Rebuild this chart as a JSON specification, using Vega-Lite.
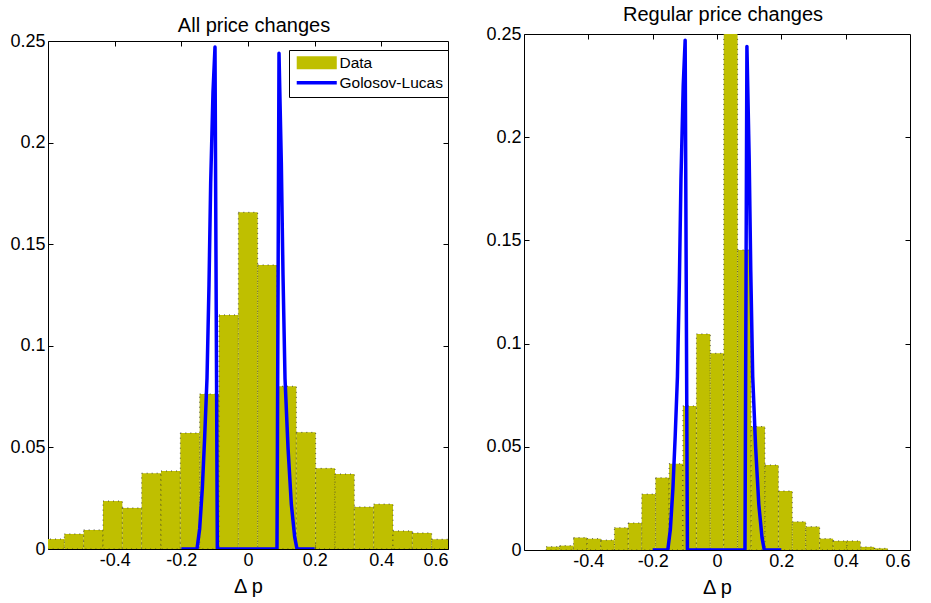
{
  "$schema": "https://vega.github.io/schema/vega-lite/v6.json",
  "background": "white",
  "padding": {"left": 9, "top": 4, "right": 5, "bottom": 3},
  "datasets": {
    "allBars": [
      {"x0": -0.609, "x1": -0.551, "density": 0.0049},
      {"x0": -0.551, "x1": -0.493, "density": 0.0074},
      {"x0": -0.493, "x1": -0.435, "density": 0.0094},
      {"x0": -0.435, "x1": -0.377, "density": 0.0236},
      {"x0": -0.377, "x1": -0.319, "density": 0.0202},
      {"x0": -0.319, "x1": -0.261, "density": 0.0373},
      {"x0": -0.261, "x1": -0.203, "density": 0.0384},
      {"x0": -0.203, "x1": -0.145, "density": 0.0571},
      {"x0": -0.145, "x1": -0.087, "density": 0.0763},
      {"x0": -0.087, "x1": -0.029, "density": 0.1152},
      {"x0": -0.029, "x1": 0.029, "density": 0.1657},
      {"x0": 0.029, "x1": 0.087, "density": 0.1398},
      {"x0": 0.087, "x1": 0.145, "density": 0.0801},
      {"x0": 0.145, "x1": 0.203, "density": 0.0574},
      {"x0": 0.203, "x1": 0.261, "density": 0.0397},
      {"x0": 0.261, "x1": 0.319, "density": 0.0369},
      {"x0": 0.319, "x1": 0.377, "density": 0.0207},
      {"x0": 0.377, "x1": 0.435, "density": 0.0221},
      {"x0": 0.435, "x1": 0.493, "density": 0.0089},
      {"x0": 0.493, "x1": 0.551, "density": 0.0079},
      {"x0": 0.551, "x1": 0.609, "density": 0.0048}
    ],
    "regBars": [
      {"x0": -0.531, "x1": -0.489, "density": 0.0016},
      {"x0": -0.489, "x1": -0.446, "density": 0.0021},
      {"x0": -0.446, "x1": -0.404, "density": 0.006},
      {"x0": -0.404, "x1": -0.361, "density": 0.0055},
      {"x0": -0.361, "x1": -0.319, "density": 0.0048},
      {"x0": -0.319, "x1": -0.276, "density": 0.0108},
      {"x0": -0.276, "x1": -0.234, "density": 0.0131},
      {"x0": -0.234, "x1": -0.191, "density": 0.0271},
      {"x0": -0.191, "x1": -0.149, "density": 0.035},
      {"x0": -0.149, "x1": -0.106, "density": 0.0418},
      {"x0": -0.106, "x1": -0.064, "density": 0.0698},
      {"x0": -0.064, "x1": -0.021, "density": 0.1047},
      {"x0": -0.021, "x1": 0.021, "density": 0.0953},
      {"x0": 0.021, "x1": 0.064, "density": 0.27},
      {"x0": 0.064, "x1": 0.106, "density": 0.1454},
      {"x0": 0.106, "x1": 0.149, "density": 0.0598},
      {"x0": 0.149, "x1": 0.191, "density": 0.0412},
      {"x0": 0.191, "x1": 0.234, "density": 0.0286},
      {"x0": 0.234, "x1": 0.276, "density": 0.0137},
      {"x0": 0.276, "x1": 0.319, "density": 0.0113},
      {"x0": 0.319, "x1": 0.361, "density": 0.0055},
      {"x0": 0.361, "x1": 0.404, "density": 0.0044},
      {"x0": 0.404, "x1": 0.446, "density": 0.0044},
      {"x0": 0.446, "x1": 0.489, "density": 0.0015},
      {"x0": 0.489, "x1": 0.531, "density": 0.0008}
    ],
    "curve": [
      {"dp": -0.2, "density": 0},
      {"dp": -0.153, "density": 0},
      {"dp": -0.145, "density": 0.01},
      {"dp": -0.137, "density": 0.03},
      {"dp": -0.13, "density": 0.055},
      {"dp": -0.123, "density": 0.084},
      {"dp": -0.117, "density": 0.13},
      {"dp": -0.112, "density": 0.18},
      {"dp": -0.105, "density": 0.225},
      {"dp": -0.099, "density": 0.247},
      {"dp": -0.092, "density": 0},
      {"dp": 0.087, "density": 0},
      {"dp": 0.093, "density": 0.244},
      {"dp": 0.1, "density": 0.19},
      {"dp": 0.105, "density": 0.135},
      {"dp": 0.111, "density": 0.084},
      {"dp": 0.12, "density": 0.05},
      {"dp": 0.13, "density": 0.022},
      {"dp": 0.14, "density": 0.006},
      {"dp": 0.147, "density": 0},
      {"dp": 0.2, "density": 0}
    ],
    "empty": []
  },
  "config": {
    "font": "Liberation Sans",
    "view": {"stroke": "black", "strokeWidth": 1},
    "axis": {
      "domain": false,
      "grid": false,
      "tickColor": "black",
      "tickSize": -5,
      "tickWidth": 1,
      "labelColor": "black",
      "labelFontSize": 18,
      "labelFont": "Liberation Sans",
      "labelPadding": 8,
      "titleColor": "black",
      "titleFontSize": 20,
      "titleFontWeight": "normal",
      "titleFont": "Liberation Sans",
      "titlePadding": 7
    },
    "axisX": {"labelPadding": 7},
    "title": {
      "fontSize": 20,
      "fontWeight": "normal",
      "color": "black",
      "font": "Liberation Sans",
      "offset": 0.1,
      "frame": "group",
      "anchor": "middle",
      "dx": 6
    },
    "locale": {
      "number": {"decimal": ".", "thousands": ",", "grouping": [3], "currency": ["$", ""], "minus": "-"}
    }
  },
  "spacing": 36,
  "resolve": {"scale": {"color": "independent", "shape": "independent"}, "legend": {"color": "independent", "shape": "independent"}},
  "hconcat": [
    {
      "spacing": -5,
      "resolve": {"scale": {"color": "independent", "shape": "independent"}, "legend": {"color": "independent", "shape": "independent"}},
      "vconcat": [
        {
          "width": 400,
          "height": 1,
          "view": {"stroke": null},
          "title": {"text": "All price changes", "offset": -2},
          "data": {"name": "empty"},
          "mark": "point"
        },
        {
          "width": 400,
          "height": 508,
          "resolve": {"axis": {"x": "independent", "y": "independent"}},
          "layer": [
            {
              "data": {"name": "allBars"},
              "mark": {"type": "bar", "clip": true, "color": "#BFBF00", "stroke": "#333333", "strokeWidth": 0.8, "strokeDash": [1, 4]},
              "encoding": {
                "x": {"field": "x0", "type": "quantitative",
                      "scale": {"domain": [-0.6, 0.6], "nice": false, "zero": false},
                      "axis": {"orient": "top", "labels": false, "title": null, "values": [-0.4, -0.2, 0, 0.2, 0.4]}},
                "x2": {"field": "x1"},
                "y": {"field": "density", "type": "quantitative",
                      "scale": {"domain": [0, 0.25], "nice": false},
                      "axis": {"orient": "left", "title": null, "values": [0, 0.05, 0.1, 0.15, 0.2, 0.25], "format": "~g"}},
                "y2": {"datum": 0}
              }
            },
            {
              "data": {"name": "curve"},
              "mark": {"type": "line", "clip": true, "color": "#0000FF", "strokeWidth": 3.5, "strokeJoin": "round"},
              "encoding": {
                "x": {"field": "dp", "type": "quantitative",
                      "scale": {"domain": [-0.6, 0.6], "nice": false, "zero": false},
                      "axis": {"orient": "bottom", "title": "Δ p", "values": [-0.4, -0.2, 0, 0.2, 0.4, 0.6], "format": "~g"}},
                "y": {"field": "density", "type": "quantitative",
                      "scale": {"domain": [0, 0.25], "nice": false},
                      "axis": {"orient": "right", "labels": false, "title": null, "values": [0.05, 0.1, 0.15, 0.2]}}
              }
            },
            {
              "data": {"name": "empty"},
              "mark": {"type": "point", "filled": true, "opacity": 1},
              "encoding": {
                "color": {"datum": "Data", "type": "nominal",
                          "scale": {"domain": ["Data", "Golosov-Lucas"], "range": ["#BFBF00", "#0000FF"]},
                          "legend": {
                            "orient": "none", "legendX": 241, "legendY": 9, "title": null,
                            "strokeColor": "black", "fillColor": "white", "padding": 5,
                            "labelFontSize": 15.5, "labelFont": "Liberation Sans", "labelColor": "black",
                            "symbolSize": 196, "symbolOffset": 15, "labelOffset": 15, "rowPadding": 3,
                            "symbolOpacity": 1, "symbolStrokeWidth": 0
                          }},
                "shape": {"datum": "Data", "type": "nominal",
                          "scale": {"domain": ["Data", "Golosov-Lucas"], "range": ["M-2.86,-0.93H2.86V0.93H-2.86Z", "M-2.86,-0.25H2.86V0.25H-2.86Z"]},
                          "legend": {
                            "orient": "none", "legendX": 241, "legendY": 9, "title": null,
                            "strokeColor": "black", "fillColor": "white", "padding": 5,
                            "labelFontSize": 15.5, "labelFont": "Liberation Sans", "labelColor": "black",
                            "symbolSize": 196, "symbolOffset": 15, "labelOffset": 15, "rowPadding": 3,
                            "symbolOpacity": 1, "symbolStrokeWidth": 0
                          }}
              }
            }
          ]
        }
      ]
    },
    {
      "width": 386,
      "height": 516,
      "title": {"text": "Regular price changes"},
      "resolve": {"axis": {"x": "independent", "y": "independent"}},
      "layer": [
        {
          "data": {"name": "regBars"},
          "mark": {"type": "bar", "clip": true, "color": "#BFBF00", "stroke": "#333333", "strokeWidth": 0.8, "strokeDash": [1, 4]},
          "encoding": {
            "x": {"field": "x0", "type": "quantitative",
                  "scale": {"domain": [-0.6, 0.6], "nice": false, "zero": false},
                  "axis": {"orient": "top", "labels": false, "title": null, "values": [-0.4, -0.2, 0, 0.2, 0.4]}},
            "x2": {"field": "x1"},
            "y": {"field": "density", "type": "quantitative",
                  "scale": {"domain": [0, 0.25], "nice": false},
                  "axis": {"orient": "left", "title": null, "values": [0, 0.05, 0.1, 0.15, 0.2, 0.25], "format": "~g"}},
            "y2": {"datum": 0}
          }
        },
        {
          "data": {"name": "curve"},
          "mark": {"type": "line", "clip": true, "color": "#0000FF", "strokeWidth": 3.5, "strokeJoin": "round"},
          "encoding": {
            "x": {"field": "dp", "type": "quantitative",
                  "scale": {"domain": [-0.6, 0.6], "nice": false, "zero": false},
                  "axis": {"orient": "bottom", "title": "Δ p", "values": [-0.4, -0.2, 0, 0.2, 0.4, 0.6], "format": "~g"}},
            "y": {"field": "density", "type": "quantitative",
                  "scale": {"domain": [0, 0.25], "nice": false},
                  "axis": {"orient": "right", "labels": false, "title": null, "values": [0.05, 0.1, 0.15, 0.2]}}
          }
        }
      ]
    }
  ]
}
